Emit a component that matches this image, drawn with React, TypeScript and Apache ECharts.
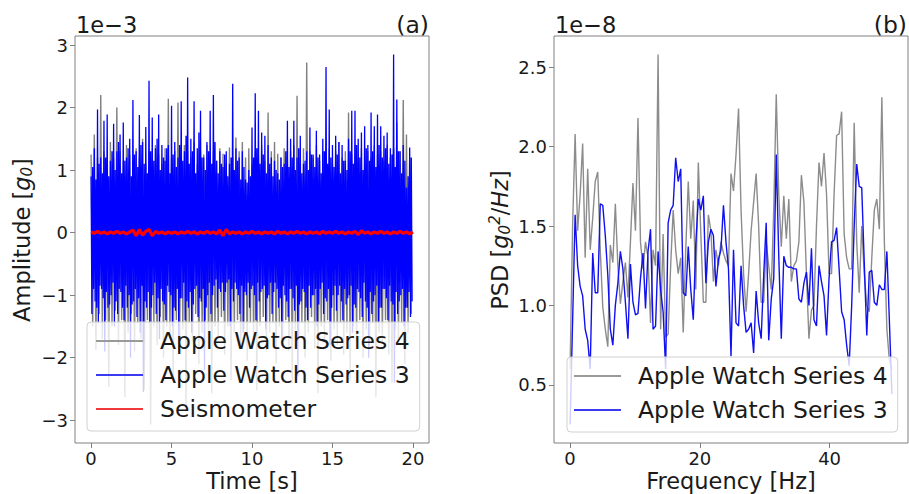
import React, { useEffect, useRef } from "react";
import * as echarts from "echarts";

const FONT = "DejaVu Sans";

// ---- Panel (a): time series (units of 1e-3 g0) ----
const blueStep = 0.1; // s between successive upper peaks (Series 3)
const grayStep = 0.2; // s between successive upper peaks (Series 4)
const seismoStep = 0.2;
const blueHi = [0.9, 1.05, 1.35, 0.85, 1.97, 1.1, 1.2, 0.95, 1.79, 1.2,
  1.89, 0.9, 1.15, 1.3, 1.74, 1.0, 1.3, 1.45, 1.57, 0.95,
  1.76, 1.15, 1.2, 1.35, 1.5, 0.9, 2.12, 1.25, 1.3, 1.05,
  1.88, 1.4, 1.45, 1.1, 1.69, 0.95, 2.43, 1.3, 1.84, 1.15,
  1.35, 1.5, 1.89, 1.0, 1.4, 1.2, 1.15, 1.35, 1.4, 0.95,
  2.03, 1.25, 1.45, 1.05, 1.2, 1.4, 2.1, 1.15, 1.3, 1.55,
  2.48, 1.1, 1.5, 1.3, 2.1, 0.95, 1.35, 1.6, 1.95, 1.2,
  1.2, 1.0, 1.45, 1.3, 1.95, 1.1, 2.2, 1.45, 1.15, 0.95,
  1.3, 1.1, 1.05, 1.25, 1.3, 0.9, 1.1, 1.2, 2.38, 1.0,
  1.35, 1.15, 1.2, 0.85, 1.3, 1.05, 0.85, 0.8, 1.0, 0.9,
  1.68, 1.2, 2.23, 1.35, 1.95, 1.1, 1.6, 1.25, 1.55, 0.95,
  1.4, 1.1, 1.2, 0.9, 1.15, 1.0, 0.95, 0.85, 1.2, 1.05,
  1.1, 1.3, 1.79, 1.05, 1.5, 1.2, 1.79, 1.0, 1.2, 1.35,
  1.55, 0.95, 1.1, 1.15, 1.3, 1.0, 1.68, 1.25, 1.25, 1.05,
  1.63, 1.2, 1.25, 0.95, 1.5, 1.3, 2.65, 1.1, 1.97, 1.2,
  1.4, 1.05, 1.55, 1.25, 1.45, 0.95, 1.4, 1.15, 1.15, 1.0,
  1.5, 1.3, 1.95, 1.1, 1.95, 1.4, 1.5, 1.2, 1.6, 1.0,
  1.7, 1.35, 1.4, 1.15, 1.92, 1.3, 1.7, 1.05, 1.89, 1.4,
  1.7, 1.2, 1.55, 1.35, 1.6, 1.1, 1.35, 1.25, 2.85, 1.05,
  2.13, 1.3, 1.3, 0.95, 1.4, 1.15, 0.72, 0.9, 1.36, 1.2];
const blueLo = [-1.3, -0.9, -1.1, -1.2, -1.45, -0.85, -0.9, -1.05, -1.9, -0.95,
  -1.2, -1.15, -1.0, -0.8, -1.5, -1.1, -1.3, -0.9, -0.95, -1.2,
  -1.4, -0.85, -1.2, -1.0, -2.0, -1.15, -1.1, -0.9, -1.35, -1.05,
  -1.6, -0.85, -2.55, -1.1, -1.2, -0.95, -1.45, -1.2, -1.0, -0.8,
  -1.3, -1.05, -1.7, -0.9, -1.1, -1.15, -1.4, -0.85, -0.95, -1.0,
  -1.5, -1.2, -1.25, -0.9, -1.9, -1.05, -1.05, -0.8, -1.4, -1.1,
  -1.2, -0.95, -1.6, -1.15, -0.9, -0.85, -1.35, -1.05, -1.1, -0.9,
  -2.2, -1.2, -1.0, -0.8, -1.3, -1.0, -0.85, -0.75, -1.2, -0.9,
  -0.95, -0.8, -1.25, -0.95, -0.8, -0.75, -1.5, -0.9, -1.1, -0.8,
  -0.9, -1.0, -1.3, -0.85, -1.6, -0.95, -1.0, -0.8, -1.2, -0.9,
  -0.85, -1.0, -1.4, -0.8, -1.1, -0.95, -0.9, -0.85, -1.55, -1.05,
  -1.0, -0.8, -1.3, -0.95, -0.8, -0.9, -1.2, -1.05, -1.7, -0.85,
  -1.0, -1.1, -1.35, -0.9, -0.9, -1.05, -1.25, -0.85, -2.3, -1.15,
  -1.1, -0.9, -0.95, -1.2, -1.4, -0.85, -1.2, -1.0, -1.0, -0.9,
  -1.5, -1.15, -0.9, -0.8, -1.3, -1.05, -1.1, -0.9, -1.8, -1.2,
  -1.0, -0.85, -1.25, -1.0, -0.85, -1.1, -1.4, -0.9, -1.15, -1.05,
  -1.0, -0.85, -1.6, -1.15, -1.2, -0.9, -0.95, -1.05, -1.35, -0.8,
  -1.1, -1.2, -2.0, -0.95, -1.3, -1.1, -1.0, -0.85, -1.45, -1.2,
  -1.2, -0.9, -0.9, -1.05, -1.4, -0.85, -1.1, -1.15, -2.4, -0.95,
  -1.3, -1.1, -1.0, -0.9, -1.5, -1.2, -1.2, -0.95, -1.35, -1.1];
const grayHi = [1.25, 1.57, 1.2, 2.2, 1.3, 1.1, 1.45, 1.2, 2.0, 1.3,
  1.15, 1.4, 1.25, 1.1, 1.35, 1.2, 1.5, 1.1, 1.3, 1.2,
  1.4, 1.25, 1.1, 1.35, 2.14, 1.2, 1.3, 2.08, 1.15, 1.4,
  1.3, 1.2, 1.45, 1.1, 1.3, 1.25, 1.4, 1.2, 1.3, 1.15,
  1.35, 1.26, 1.1, 1.36, 1.2, 1.52, 1.3, 1.45, 1.2, 1.35,
  1.1, 1.3, 1.2, 1.4, 1.15, 1.92, 1.3, 1.45, 1.26, 1.2,
  1.35, 1.1, 1.3, 1.4, 2.19, 1.2, 1.35, 2.72, 1.3, 1.2,
  1.4, 1.15, 1.3, 1.2, 1.35, 1.1, 1.3, 1.45, 1.2, 1.3,
  1.92, 1.25, 1.4, 1.2, 1.35, 1.1, 1.3, 1.2, 1.4, 1.25,
  1.3, 1.15, 1.4, 1.2, 1.35, 1.76, 1.3, 2.12, 1.57, 1.2];
const grayLo = [-1.5, -1.88, -1.3, -1.7, -1.4, -2.47, -1.5, -1.25, -1.8, -1.4,
  -2.63, -1.6, -1.3, -1.9, -1.45, -1.7, -2.52, -1.4, -3.07, -1.5,
  -1.8, -1.35, -2.0, -1.5, -1.7, -2.3, -1.4, -1.9, -1.55, -2.8,
  -1.45, -1.75, -1.3, -2.1, -1.6, -1.4, -1.85, -2.57, -1.5, -1.7,
  -1.35, -1.95, -1.5, -2.36, -1.6, -1.4, -1.8, -1.55, -2.05, -1.45,
  -1.7, -2.52, -1.5, -1.35, -1.9, -1.6, -1.45, -2.1, -1.5, -1.75,
  -1.4, -1.9, -2.4, -1.55, -1.7, -1.45, -2.0, -1.6, -1.35, -1.85,
  -2.57, -1.5, -1.7, -1.4, -2.05, -1.55, -1.8, -1.45, -1.95, -1.6,
  -2.36, -1.5, -1.75, -1.4, -2.0, -1.55, -1.85, -1.45, -2.63, -1.6,
  -1.75, -1.4, -1.95, -2.4, -1.55, -1.8, -1.45, -2.1, -1.6, -1.3];
const seismo = [0.01, -0.01, 0.02, -0.01, 0.01, -0.02, 0.01, -0.01, 0.02, -0.01,
  0.01, -0.02, 0.01, 0.04, -0.05, 0.05, -0.04, 0.02, 0.05, -0.05,
  0.02, -0.01, 0.01, -0.02, 0.01, -0.01, 0.01, -0.02, 0.01, -0.01,
  0.02, -0.01, 0.01, -0.02, 0.01, -0.01, 0.02, -0.01, 0.01, -0.02,
  0.04, -0.05, 0.05, -0.02, 0.01, -0.01, 0.01, -0.02, 0.01, -0.01,
  0.02, -0.01, 0.01, -0.02, 0.01, -0.01, 0.01, -0.02, 0.02, -0.01,
  0.01, -0.02, 0.01, -0.01, 0.02, -0.01, 0.01, -0.02, 0.01, -0.01,
  0.01, -0.02, 0.02, -0.01, 0.01, -0.01, 0.02, -0.01, 0.01, -0.02,
  0.01, -0.01, 0.02, -0.03, 0.03, -0.01, 0.01, -0.02, 0.01, -0.01,
  0.02, -0.01, 0.01, -0.02, 0.01, -0.01, 0.02, -0.01, 0.01, -0.02,
  0.01];

// ---- Panel (b): PSD (units of 1e-8 g0^2/Hz) ----
const freqStep = 49.6 / 128;
const psdSeries4 = [0.6, 1.5, 2.08, 1.47, 1.7, 2.02, 1.3, 1.86, 1.35, 1.55,
  1.78, 1.84, 1.35, 0.99, 0.85, 0.74, 1.38, 1.27, 1.64, 1.25,
  1.01, 1.15, 1.27, 1.05, 1.4, 1.77, 1.47, 2.18, 1.4, 1.23,
  1.4, 1.3, 0.89, 1.35, 1.25, 2.58, 0.85, 1.45, 0.8, 0.82,
  1.25, 1.6, 1.35, 1.2, 1.3, 0.83, 1.35, 1.78, 1.42, 1.66,
  1.1, 1.9, 1.45, 1.02, 1.02, 1.57, 1.47, 1.15, 1.35, 1.25,
  1.4, 1.33, 1.28, 1.25, 1.83, 1.72, 1.95, 2.24, 1.6, 1.2,
  0.96, 1.2, 1.47, 1.65, 1.83, 1.5, 1.02, 1.02, 1.4, 1.25,
  1.1, 1.6, 2.33, 1.7, 1.37, 1.69, 1.42, 1.67, 1.15, 1.25,
  1.28, 1.4, 1.82, 1.65, 1.2, 0.79, 0.97, 1.0, 1.5, 1.9,
  1.75, 1.96, 1.7, 1.2, 1.2, 1.7, 2.07, 2.08, 2.22, 1.45,
  1.3, 1.23, 1.23, 2.15, 1.4, 1.08, 1.5, 1.2, 1.0, 0.96,
  1.3, 1.6, 1.67, 1.48, 2.31, 1.4, 0.85, 0.65, 0.6];
const psdSeries3 = [0.25, 0.9, 1.57, 1.25, 1.12, 1.06, 0.85, 0.78, 0.6, 1.33,
  1.08, 1.08, 1.64, 1.63, 1.44, 1.19, 0.85, 0.75, 1.0, 1.14,
  1.34, 1.23, 1.02, 0.79, 1.26, 1.02, 0.94, 0.95, 1.17, 1.33,
  0.98, 1.34, 1.48, 0.85, 0.87, 1.34, 1.1, 0.96, 0.6, 1.52,
  1.6, 1.63, 1.93, 1.78, 1.86, 1.08, 1.06, 1.37, 1.1, 0.91,
  1.39, 1.67, 1.6, 1.69, 1.14, 1.4, 1.48, 1.44, 1.12, 1.29,
  1.35, 1.63, 1.4, 1.23, 0.68, 1.35, 0.89, 0.87, 1.25, 1.0,
  0.83, 0.85, 0.89, 0.7, 1.09, 0.89, 0.79, 1.19, 1.52, 0.78,
  1.04, 1.17, 1.95, 1.31, 0.79, 1.31, 1.25, 1.24, 1.24, 1.23,
  1.23, 1.04, 1.02, 1.14, 1.21, 1.0, 1.36, 0.91, 0.87, 1.25,
  1.15, 1.06, 0.81, 1.17, 1.4, 1.41, 1.49, 1.23, 0.96, 0.91,
  0.75, 0.62, 1.0, 1.5, 1.89, 1.75, 1.74, 1.27, 0.81, 1.21,
  1.22, 1.02, 1.0, 1.13, 1.1, 1.1, 1.34, 0.9, 0.44];

// ---- ticks ----
const timeTicks = [0, 5, 10, 15, 20];
const ampTicks = [-3, -2, -1, 0, 1, 2, 3];
const freqTicks = [0, 20, 40];
const psdTicks = [0.5, 1.0, 1.5, 2.0, 2.5];

const names = ["Apple Watch Series 4", "Apple Watch Series 3", "Seismometer"];

function interleave(hi: number[], lo: number[], step: number) {
  const out: number[][] = [];
  hi.forEach((h, k) => {
    out.push([k * step, h]);
    out.push([k * step + step / 2, lo[k]]);
  });
  return out;
}

const minusFmt = (v: number) => (v < 0 ? "\u2212" + Math.abs(v) : String(v));

function axis(gridIndex: number, min: number, max: number, ticks: number[], fmt: (v: number) => string, margin: number) {
  return {
    type: "value",
    gridIndex,
    min,
    max,
    axisLine: { show: false, onZero: false },
    splitLine: { show: false },
    axisTick: { show: true, inside: false, length: 5, customValues: ticks, lineStyle: { color: "#808080", width: 1 } },
    axisLabel: {
      customValues: ticks, fontSize: 18, lineHeight: 18, color: "#1a1a1a", fontFamily: FONT, margin, formatter: fmt,
    },
  };
}

const legendBase = {
  orient: "vertical",
  itemWidth: 47,
  itemHeight: 2,
  itemGap: 8,
  icon: "rect",
  backgroundColor: "rgba(255,255,255,0.8)",
  borderColor: "#d0d0d0",
  borderWidth: 1,
  borderRadius: 4,
  textStyle: { fontSize: 23.5, color: "#1a1a1a", fontFamily: FONT, lineHeight: 26, padding: [0, 0, 0, 12] },
};

const richBase = {
  n: { fontSize: 22.5, fontFamily: FONT, fill: "#1a1a1a" },
  i: { fontSize: 22.5, fontFamily: FONT, fontStyle: "italic", fill: "#1a1a1a" },
  s: { fontSize: 15, fontFamily: FONT, fontStyle: "italic", fill: "#1a1a1a", padding: [10, 0, 0, 0] },
  p: { fontSize: 15, fontFamily: FONT, fontStyle: "italic", fill: "#1a1a1a", padding: [0, 0, 10, 0] },
};

function txt(x: number, y: number, text: string, align: string, size: number, extra: any = {}) {
  return {
    type: "text",
    x,
    y,
    z: 10,
    ...extra,
    style: {
      text, fontSize: size, lineHeight: size + 2, fontFamily: FONT, fill: "#1a1a1a", align, verticalAlign: "middle", rich: richBase,
    },
  };
}

const option = {
  animation: false,
  backgroundColor: "#ffffff",
  textStyle: { fontFamily: FONT },
  grid: [
    { left: 75, top: 36, width: 354, height: 407, show: true, borderColor: "#808080", borderWidth: 1 },
    { left: 554, top: 36, width: 354, height: 407, show: true, borderColor: "#808080", borderWidth: 1 },
  ],
  xAxis: [
    axis(0, -1, 21, timeTicks, (v) => String(v), 6),
    axis(1, -2.48, 52.08, freqTicks, (v) => String(v), 6),
  ],
  yAxis: [
    axis(0, -3.366, 3.146, ampTicks, minusFmt, 7),
    axis(1, 0.1335, 2.6965, psdTicks, (v) => v.toFixed(1), 7),
  ],
  legend: [
    { ...legendBase, left: 87, top: 322, padding: [6, 10, 9, 9], data: names },
    { ...legendBase, left: 567, top: 357, padding: [6, 10, 9, 7], data: names.slice(0, 2) },
  ],
  series: [
    {
      name: names[0], type: "line", xAxisIndex: 0, yAxisIndex: 0, symbol: "none", silent: true,
      data: interleave(grayHi, grayLo, grayStep),
      lineStyle: { color: "#808080", width: 1.4 }, itemStyle: { color: "#9a9a9a" },
    },
    {
      name: names[1], type: "line", xAxisIndex: 0, yAxisIndex: 0, symbol: "none", silent: true,
      data: interleave(blueHi, blueLo, blueStep),
      lineStyle: { color: "#0000ff", width: 1.3 }, itemStyle: { color: "#3a3af0" },
    },
    {
      name: names[2], type: "line", xAxisIndex: 0, yAxisIndex: 0, symbol: "none", silent: true,
      data: seismo.map((v, k) => [k * seismoStep, v]),
      lineStyle: { color: "#ff0000", width: 3.2 }, itemStyle: { color: "#f03a3a" },
    },
    {
      name: names[0], type: "line", xAxisIndex: 1, yAxisIndex: 1, symbol: "none", silent: true,
      data: psdSeries4.map((v, i) => [i * freqStep, v]),
      lineStyle: { color: "#8c8c8c", width: 1.4 }, itemStyle: { color: "#9a9a9a" },
    },
    {
      name: names[1], type: "line", xAxisIndex: 1, yAxisIndex: 1, symbol: "none", silent: true,
      data: psdSeries3.map((v, i) => [i * freqStep, v]),
      lineStyle: { color: "#1010f0", width: 1.4 }, itemStyle: { color: "#3a3af0" },
    },
  ],
  graphic: [
    txt(76, 25, "1e\u22123", "left", 22.5),
    txt(429, 25, "(a)", "right", 23.5),
    txt(555, 25, "1e\u22128", "left", 22.5),
    txt(907, 25, "(b)", "right", 23.5),
    txt(252, 481, "Time [s]", "center", 22.5),
    txt(731, 481, "Frequency [Hz]", "center", 22.5),
    txt(22, 240, "{n|Amplitude [}{i|g}{s|0}{n|]}", "center", 22.5, { rotation: Math.PI / 2 }),
    txt(500, 240, "{n|PSD [}{i|g}{s|0}{p|2}{n|/}{i|Hz}{n|]}", "center", 22.5, { rotation: Math.PI / 2 }),
  ],
};

export default function App() {
  const ref = useRef<HTMLDivElement>(null);
  useEffect(() => {
    const chart = echarts.init(ref.current!, null, { renderer: "svg" });
    chart.setOption(option as any);
    return () => chart.dispose();
  }, []);
  return (
    <div
      ref={ref}
      style={{ position: "fixed", left: 0, top: 0, width: 909, height: 494, background: "#fff" }}
    />
  );
}
